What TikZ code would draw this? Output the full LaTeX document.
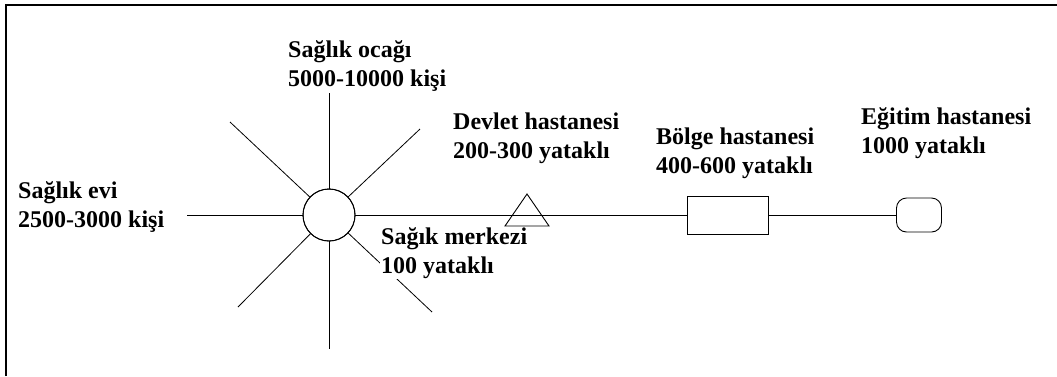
\documentclass[tikz,border=0pt]{standalone}
\usepackage{fontspec}
\setmainfont{Liberation Serif}
\usetikzlibrary{positioning, shapes.geometric}

\tikzset{
  lbl/.style={anchor=base west, align=left, inner sep=1pt, font=\fontsize{24}{29}\selectfont\bfseries},
  spoke/.style={line width=0.8pt},
  unit/.style={draw, line width=0.9pt, inner sep=0pt}
}

\begin{document}
\begin{tikzpicture}[x=1pt, y=-1pt]
\useasboundingbox (0,0) rectangle (1057,376);
\draw[line width=2.5pt] (6,376) -- (6,5) -- (1057,5);

% merkez ve kollar
\node[unit, circle, minimum size=52pt] (hub) at (329,215) {};
\coordinate (up) at (329,93);
\coordinate (down) at (329,349);
\coordinate (left) at (187,215);
\coordinate (ul) at (230,122);
\coordinate (ur) at (420,129);
\coordinate (ll) at (238,307);
\coordinate (lr) at (432,312);
\foreach \s in {up, down, left, ul, ur, ll, lr}
  \draw[spoke] (hub) -- (\s);
\fill[white] (hub) circle(25pt);
\draw[line width=0.9pt] (hub) circle(26pt);

% hastaneler
\node[unit, rectangle, minimum width=81pt, minimum height=38pt] (bolge) at (728,215) {};
\node[unit, rectangle, rounded corners=10pt, minimum width=45pt, minimum height=34pt] (egitim) at (919,215) {};
\draw[line width=1pt] (hub.east) -- (bolge.west);
\draw[line width=1pt] (bolge.east) -- (egitim.west);

% yazilar
\node[lbl] (ocakyazi) at (287,86) {Sağlık ocağı\\5000-10000 kişi};
\node[lbl] (evyazi) at (17,227) {Sağlık evi\\2500-3000 kişi};
\node[lbl] (devletyazi) at (452,158) {Devlet hastanesi\\200-300 yataklı};
\node[lbl, fill=white] (merkezyazi) at (380,273) {Sağık merkezi\\100 yataklı};
\node[lbl] (bolgeyazi) at (655,173) {Bölge hastanesi\\400-600 yataklı};
\node[lbl] (egitimyazi) at (860,153) {Eğitim hastanesi\\1000 yataklı};

% devlet hastanesi ucgeni
\coordinate (devlet) at (527,194);
\draw[line width=0.9pt, line join=miter] (devlet) -- ++(-22,32) -- ++(44,0) -- cycle;
\end{tikzpicture}
\end{document}
